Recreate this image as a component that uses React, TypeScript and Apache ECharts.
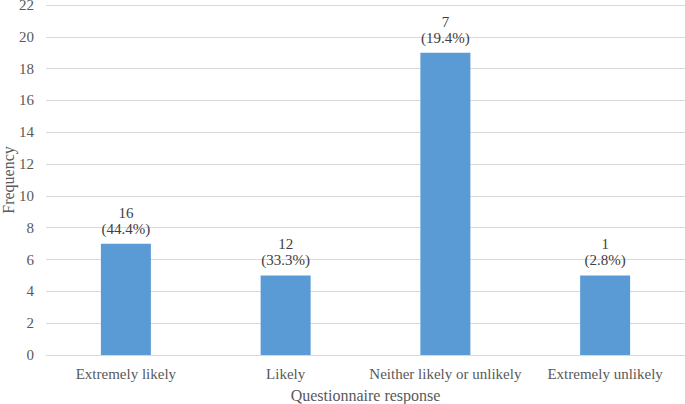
import React, { useEffect, useRef } from "react";
import * as echarts from "echarts";

const categories = ["Extremely likely", "Likely", "Neither likely or unlikely", "Extremely unlikely"];
const barValues = [7, 5, 19, 5];
const labelCounts = ["16", "12", "7", "1"];
const labelPercents = ["(44.4%)", "(33.3%)", "(19.4%)", "(2.8%)"];

const FONT = '"Times New Roman", "Liberation Serif", serif';

export default function App() {
  const ref = useRef<HTMLDivElement>(null);
  useEffect(() => {
    const chart = echarts.init(ref.current!, null, { renderer: "svg" });
    chart.setOption({
      animation: false,
      textStyle: { fontFamily: FONT },
      grid: { left: 46, right: 0, top: 5, bottom: 49, containLabel: false, outerBoundsMode: "none" },
      xAxis: {
        type: "category",
        data: categories,
        name: "Questionnaire response",
        nameLocation: "middle",
        nameGap: 32,
        nameMoveOverlap: false,
        nameTextStyle: { fontFamily: FONT, fontSize: 16, color: "#595959" },
        axisLine: { lineStyle: { color: "#d9d9d9" } },
        axisTick: { show: false },
        axisLabel: { interval: 0, fontFamily: FONT, fontSize: 15, color: "#595959", margin: 11 },
      },
      yAxis: {
        type: "value",
        min: 0,
        max: 22,
        interval: 2,
        name: "Frequency",
        nameLocation: "middle",
        nameGap: 30,
        nameMoveOverlap: false,
        nameTextStyle: { fontFamily: FONT, fontSize: 16, color: "#595959" },
        axisLine: { show: false },
        axisTick: { show: false },
        splitLine: { lineStyle: { color: "#d9d9d9" } },
        axisLabel: { fontFamily: FONT, fontSize: 15, color: "#595959", margin: 12 },
      },
      series: [
        {
          type: "bar",
          data: barValues,
          barWidth: 50,
          itemStyle: { color: "#5b9bd5" },
          label: {
            show: true,
            position: "top",
            distance: 7,
            fontFamily: FONT,
            fontSize: 15,
            lineHeight: 16,
            color: "#404040",
            formatter: (p: any) => labelCounts[p.dataIndex] + "\n" + labelPercents[p.dataIndex],
          },
        },
      ],
    });
    return () => chart.dispose();
  }, []);
  return <div ref={ref} style={{ position: "absolute", left: 0, top: 0, width: 685, height: 404 }} />;
}
